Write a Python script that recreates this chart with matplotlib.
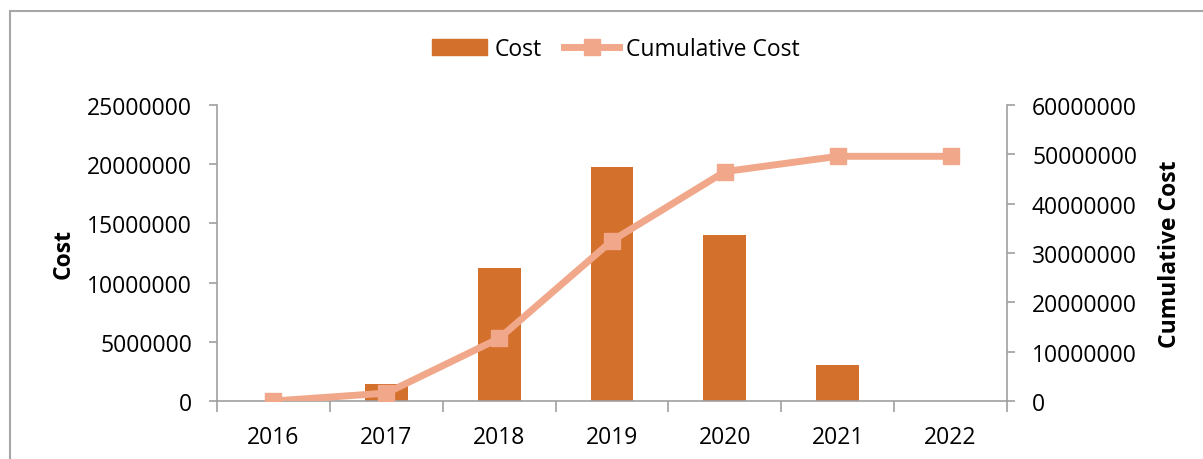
import matplotlib
matplotlib.use("Agg")
import matplotlib.pyplot as plt
from matplotlib.lines import Line2D
import numpy as np

years = ["2016", "2017", "2018", "2019", "2020", "2021", "2022"]
cost = [0, 1.45e6, 11.2e6, 19.8e6, 14.0e6, 3.0e6, 0]
cumulative_cost = [0, 1.6e6, 12.7e6, 32.5e6, 46.5e6, 49.6e6, 49.6e6]
left_ticks = [0, 5000000, 10000000, 15000000, 20000000, 25000000]
right_ticks = [0, 10000000, 20000000, 30000000, 40000000, 50000000, 60000000]

plt.rcParams['font.family'] = ['Open Sans', 'DejaVu Sans']

bar_color = "#D3702B"
line_color = "#F1A88A"
axis_gray = "#A0A0A0"
fs = 16.5

fig = plt.figure(figsize=(12.03, 4.60), dpi=100)
ax = fig.add_axes([217/1203, 1-402/460, (1007-217)/1203, (402-106)/460])
ax2 = ax.twinx()

x = np.arange(len(years))
ax.bar(x, cost, width=0.38, color=bar_color, zorder=2, label="Cost")
ax2.plot(x, cumulative_cost, color=line_color, lw=5, marker='s', markersize=11,
         zorder=3, label="Cumulative Cost", solid_capstyle='butt')

ax.set_xlim(-0.5, len(years) - 0.5)
ax.set_ylim(0, 25000000)
ax2.set_ylim(0, 60000000)
ax.set_yticks(left_ticks)
ax.set_yticklabels([str(v) for v in left_ticks])
ax2.set_yticks(right_ticks)
ax2.set_yticklabels([str(v) for v in right_ticks])
ax.set_xticks(x)
ax.set_xticklabels(years)
ax.set_xticks(np.arange(len(years) + 1) - 0.5, minor=True)

for a in (ax, ax2):
    a.spines['top'].set_visible(False)
    for s in ('left', 'right', 'bottom'):
        a.spines[s].set_color(axis_gray)
        a.spines[s].set_linewidth(1.2)
    a.patch.set_visible(False)
ax.spines['right'].set_visible(False)
ax2.spines['left'].set_visible(False)
ax2.spines['bottom'].set_visible(False)

ax.tick_params(axis='y', direction='out', length=6, width=1.2, color=axis_gray,
               labelsize=fs, pad=12)
ax2.tick_params(axis='y', direction='out', length=6, width=1.2, color=axis_gray,
                labelsize=fs, pad=12)
ax.tick_params(axis='x', which='major', length=0, labelsize=fs, pad=17)
ax.tick_params(axis='x', which='minor', direction='out', length=8, width=1.2,
               color=axis_gray)

ax.set_ylabel("Cost", fontsize=fs, fontweight='bold', labelpad=8)
ax2.set_ylabel("Cumulative Cost", fontsize=fs, fontweight='bold', labelpad=15)

handles = [
    plt.Rectangle((0, 0), 1, 1, color=bar_color),
    Line2D([0], [0], color=line_color, lw=5, marker='s', markersize=11),
]
fig.legend(handles, ["Cost", "Cumulative Cost"], loc='center',
           bbox_to_anchor=(616/1203, 1-50/460), ncol=2, frameon=False,
           fontsize=fs, handlelength=2.4, handletextpad=0.3, columnspacing=1.0)

# outer chart border
border = plt.Rectangle((10/1203, -0.1), 1.2, 1 - 12/460 + 0.1,
                       transform=fig.transFigure, fill=False,
                       edgecolor="#A6A6A6", linewidth=1.5)
fig.patches.append(border)

fig.savefig("out.png", dpi=100)
